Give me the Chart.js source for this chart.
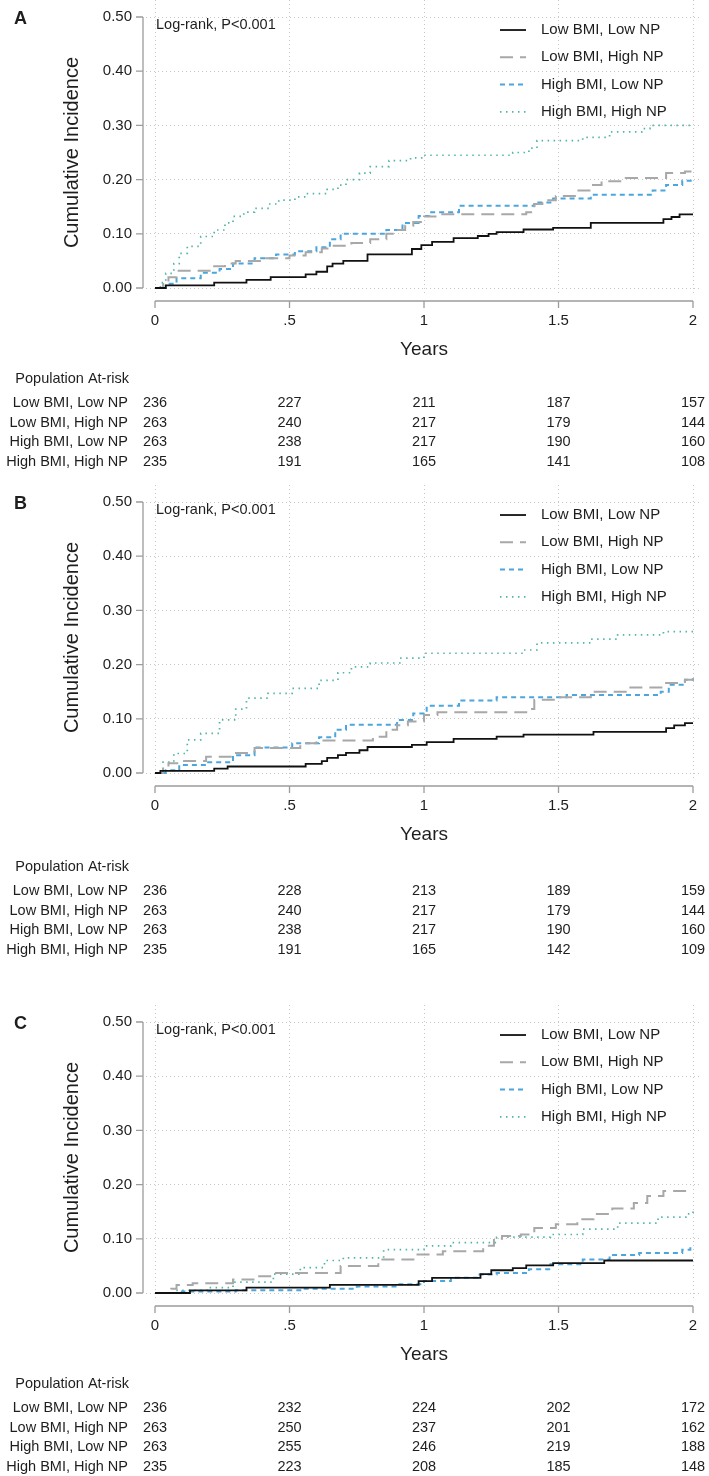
<!DOCTYPE html>
<html>
<head>
<meta charset="utf-8">
<script src="https://cdn.jsdelivr.net/npm/chart.js@4.4.1/dist/chart.umd.min.js"></script>
<style>
  body { margin: 0; background: #fff; overflow: hidden; }
  #wrap { position: relative; width: 709px; height: 1476px; overflow: hidden; }
  canvas { position: absolute; left: 0; }
</style>
</head>
<body>
<div id="wrap">
  <canvas id="panelA" width="740" height="525" style="top:-45px"></canvas>
  <canvas id="panelB" width="740" height="520" style="top:440px"></canvas>
  <canvas id="panelC" width="740" height="516" style="top:960px"></canvas>
</div>
<script>
// -------------------------
// DATA
// -------------------------
const seriesNames = ["Low BMI, Low NP", "Low BMI, High NP", "High BMI, Low NP", "High BMI, High NP"];
const xTickValues = [0, 0.5, 1, 1.5, 2];
const xTickLabels = ["0", ".5", "1", "1.5", "2"];
const yTickValues = [0, 0.1, 0.2, 0.3, 0.4, 0.5];

// panel A  [years, cumulative incidence]
const aLowLow = [[0,0],[0.04,0.005],[0.22,0.01],[0.34,0.015],[0.43,0.02],[0.56,0.025],[0.6,0.03],[0.64,0.04],[0.66,0.045],[0.7,0.05],[0.79,0.062],[0.955,0.072],[0.99,0.079],[1.03,0.085],[1.11,0.092],[1.2,0.096],[1.24,0.1],[1.27,0.103],[1.37,0.108],[1.48,0.111],[1.62,0.12],[1.89,0.127],[1.92,0.131],[1.95,0.136],[2,0.136]];
const aLowHigh = [[0,0],[0.03,0.01],[0.05,0.02],[0.08,0.032],[0.22,0.04],[0.26,0.045],[0.3,0.05],[0.4,0.055],[0.5,0.06],[0.56,0.066],[0.62,0.073],[0.66,0.078],[0.73,0.083],[0.8,0.09],[0.86,0.1],[0.89,0.107],[0.93,0.115],[0.96,0.122],[1.0,0.132],[1.05,0.136],[1.38,0.14],[1.41,0.155],[1.44,0.162],[1.49,0.17],[1.57,0.18],[1.62,0.19],[1.66,0.197],[1.75,0.203],[1.9,0.212],[1.97,0.215],[2,0.215]];
const aHighLow = [[0,0],[0.04,0.008],[0.08,0.018],[0.17,0.028],[0.24,0.035],[0.29,0.045],[0.37,0.055],[0.45,0.062],[0.52,0.068],[0.6,0.075],[0.65,0.09],[0.69,0.1],[0.86,0.107],[0.92,0.12],[0.98,0.133],[1.02,0.14],[1.13,0.152],[1.41,0.158],[1.48,0.165],[1.62,0.172],[1.85,0.18],[1.9,0.19],[1.96,0.198],[2,0.2]];
const aHighHigh = [[0,0],[0.02,0.01],[0.04,0.027],[0.07,0.045],[0.09,0.064],[0.12,0.077],[0.17,0.095],[0.22,0.107],[0.26,0.12],[0.29,0.132],[0.33,0.14],[0.37,0.147],[0.42,0.155],[0.46,0.162],[0.52,0.168],[0.56,0.174],[0.64,0.182],[0.68,0.19],[0.71,0.2],[0.76,0.212],[0.8,0.224],[0.87,0.235],[0.95,0.24],[1.0,0.245],[1.33,0.25],[1.39,0.258],[1.42,0.272],[1.59,0.278],[1.69,0.288],[1.81,0.294],[1.84,0.3],[2,0.3]];

// panel B
const bLowLow = [[0,0],[0.02,0.004],[0.22,0.008],[0.27,0.012],[0.56,0.017],[0.62,0.022],[0.64,0.028],[0.68,0.033],[0.71,0.037],[0.76,0.042],[0.79,0.048],[0.955,0.052],[1.01,0.057],[1.11,0.063],[1.27,0.067],[1.37,0.071],[1.63,0.076],[1.9,0.083],[1.93,0.088],[1.97,0.092],[2,0.092]];
const bLowHigh = [[0,0],[0.03,0.01],[0.05,0.018],[0.09,0.022],[0.19,0.03],[0.29,0.037],[0.37,0.046],[0.54,0.055],[0.6,0.06],[0.81,0.067],[0.86,0.08],[0.9,0.088],[0.94,0.095],[1.0,0.107],[1.05,0.112],[1.38,0.118],[1.41,0.135],[1.49,0.14],[1.62,0.15],[1.75,0.158],[1.9,0.166],[1.97,0.172],[2,0.174]];
const bHighLow = [[0,0],[0.04,0.005],[0.09,0.015],[0.19,0.02],[0.29,0.033],[0.37,0.047],[0.51,0.055],[0.61,0.066],[0.67,0.08],[0.71,0.089],[0.9,0.098],[0.96,0.11],[1.01,0.124],[1.13,0.134],[1.27,0.14],[1.53,0.144],[1.88,0.15],[1.91,0.163],[1.97,0.172],[2,0.175]];
const bHighHigh = [[0,0],[0.03,0.02],[0.07,0.036],[0.12,0.061],[0.17,0.073],[0.24,0.098],[0.3,0.118],[0.34,0.138],[0.42,0.147],[0.51,0.156],[0.61,0.171],[0.68,0.185],[0.73,0.196],[0.8,0.203],[0.91,0.212],[1.0,0.221],[1.37,0.227],[1.42,0.24],[1.62,0.247],[1.72,0.255],[1.89,0.261],[2,0.261]];

// panel C
const cLowLow = [[0,0],[0.13,0.005],[0.34,0.01],[0.65,0.015],[0.98,0.022],[1.03,0.028],[1.21,0.035],[1.25,0.042],[1.33,0.046],[1.38,0.051],[1.48,0.055],[1.67,0.06],[2,0.06]];
const cLowHigh = [[0,0],[0.06,0.008],[0.08,0.015],[0.14,0.018],[0.29,0.025],[0.37,0.031],[0.44,0.037],[0.69,0.05],[0.83,0.062],[0.97,0.071],[1.07,0.077],[1.22,0.087],[1.26,0.1],[1.29,0.105],[1.36,0.108],[1.41,0.12],[1.49,0.127],[1.57,0.136],[1.63,0.146],[1.7,0.156],[1.78,0.166],[1.83,0.179],[1.89,0.188],[2,0.188]];
const cHighLow = [[0,0],[0.1,0.003],[0.3,0.005],[0.55,0.008],[0.75,0.012],[0.9,0.016],[1.0,0.022],[1.1,0.028],[1.2,0.034],[1.27,0.037],[1.39,0.044],[1.47,0.053],[1.59,0.062],[1.69,0.07],[1.8,0.074],[1.96,0.08],[1.99,0.085],[2,0.085]];
const cHighHigh = [[0,0],[0.07,0.005],[0.2,0.01],[0.29,0.02],[0.44,0.035],[0.54,0.047],[0.63,0.06],[0.7,0.065],[0.85,0.08],[1.0,0.087],[1.1,0.093],[1.27,0.103],[1.47,0.108],[1.59,0.118],[1.72,0.129],[1.87,0.14],[1.98,0.146],[2,0.155]];

// population at risk (at 0, .5, 1, 1.5, 2 years)
const aAtRisk = [[236,227,211,187,157],[263,240,217,179,144],[263,238,217,190,160],[235,191,165,141,108]];
const bAtRisk = [[236,228,213,189,159],[263,240,217,179,144],[263,238,217,190,160],[235,191,165,142,109]];
const cAtRisk = [[236,232,224,202,172],[263,250,237,201,162],[263,255,246,219,188],[235,223,208,185,148]];

// -------------------------
// STYLES
// -------------------------
const seriesColors = ["#111111", "#a8a8a8", "#4aa6dd", "#4fb5a6"];
const seriesDash = [[], [13, 7], [5, 4], [1.5, 4.5]];
const seriesWidth = [1.8, 2, 2, 1.7];
const FONT = '"Liberation Sans", Arial, Helvetica, sans-serif';
const TEXT = "#1e1e1e";
const PANEL_TOP = 62;   // pixel of the 0.50 line inside every canvas

// -------------------------
// DIBUJO EXTRA (ejes, textos, leyenda, tabla)
// -------------------------
const panelDecor = {
    id: 'panelDecor',
    afterDraw(chart, args, opts) {
        const ctx = chart.ctx;
        const xs = chart.scales.x;
        const ys = chart.scales.y;
        const x0 = xs.getPixelForValue(0), x2 = xs.getPixelForValue(2);
        const y0 = ys.getPixelForValue(0), y5 = ys.getPixelForValue(0.5);

        ctx.save();
        // axis lines with outward ticks
        ctx.strokeStyle = "#9c9c9c";
        ctx.lineWidth = 1.3;
        ctx.setLineDash([]);
        const ax = chart.chartArea.left - 3;
        const ay = y0 + 13;
        ctx.beginPath();
        ctx.moveTo(ax, y5); ctx.lineTo(ax, y0);
        yTickValues.forEach(v => {
            const p = ys.getPixelForValue(v);
            ctx.moveTo(ax - 7, p); ctx.lineTo(ax, p);
        });
        ctx.moveTo(x0, ay); ctx.lineTo(x2, ay);
        xTickValues.forEach(v => {
            const p = xs.getPixelForValue(v);
            ctx.moveTo(p, ay); ctx.lineTo(p, ay + 7);
        });
        ctx.stroke();

        ctx.fillStyle = TEXT;
        ctx.textBaseline = "middle";

        // panel letter
        ctx.font = "bold 18px " + FONT;
        ctx.textAlign = "left";
        ctx.fillText(opts.letter, 14, y5 + 2);

        // log-rank
        ctx.font = "14.5px " + FONT;
        ctx.fillText("Log-rank, P<0.001", x0 + 1, y5 + 8);

        // legend
        ctx.font = "15px " + FONT;
        chart.data.datasets.forEach((ds, i) => {
            const ly = y5 + 13 + i * 27.3;
            ctx.save();
            ctx.strokeStyle = ds.borderColor;
            ctx.lineWidth = ds.borderWidth;
            ctx.setLineDash(ds.borderDash);
            ctx.beginPath();
            ctx.moveTo(500, ly); ctx.lineTo(526, ly);
            ctx.stroke();
            ctx.restore();
            ctx.fillText(ds.label, 541, ly);
        });

        // y title
        ctx.save();
        ctx.font = "20px " + FONT;
        ctx.textAlign = "center";
        ctx.translate(72, (y0 + y5) / 2);
        ctx.rotate(-Math.PI / 2);
        ctx.fillText("Cumulative Incidence", 0, 0);
        ctx.restore();

        // x title
        ctx.font = "19px " + FONT;
        ctx.textAlign = "center";
        ctx.fillText("Years", xs.getPixelForValue(1), y0 + 62);

        // at-risk table
        const t0 = y0 + 91 + opts.tableShift;
        ctx.font = "14.5px " + FONT;
        ctx.textAlign = "right";
        ctx.fillText("Population At-risk", 129, t0);
        opts.atRisk.forEach((row, i) => {
            const ry = t0 + 24 + i * 19.6;
            ctx.textAlign = "right";
            ctx.fillText(seriesNames[i], 128, ry);
            ctx.textAlign = "center";
            row.forEach((n, j) => {
                ctx.fillText(String(n), xs.getPixelForValue(xTickValues[j]), ry);
            });
        });
        ctx.restore();
    }
};

// -------------------------
// CREAR PANEL
// -------------------------
function createPanel(canvasId, letter, series, atRisk, tableShift) {
    const canvas = document.getElementById(canvasId);
    const H = canvas.height;
    const top = PANEL_TOP;

    return new Chart(canvas.getContext('2d'), {
        type: 'line',
        data: {
            datasets: series.map((pts, i) => ({
                label: seriesNames[i],
                data: pts.map(p => ({ x: p[0], y: p[1] })),
                borderColor: seriesColors[i],
                borderDash: seriesDash[i],
                borderWidth: seriesWidth[i],
                stepped: true,
                pointRadius: 0,
                fill: false
            }))
        },
        options: {
            responsive: false,
            animation: false,
            // chart area: x 146..700, y (top-17)..(top+276)
            layout: { padding: { top: top - 17, right: canvas.width - 700, left: 0, bottom: 0 } },
            plugins: {
                legend: { display: false },
                tooltip: { enabled: false },
                panelDecor: { letter: letter, atRisk: atRisk, tableShift: tableShift }
            },
            scales: {
                x: {
                    type: 'linear',
                    min: -0.0335,
                    max: 2.026,
                    afterBuildTicks: s => { s.ticks = xTickValues.map(v => ({ value: v })); },
                    afterFit: s => { s.height = H - (top + 276); },
                    ticks: {
                        callback: (v, i) => xTickLabels[i],
                        font: { family: FONT, size: 15 },
                        color: TEXT,
                        padding: 19,
                        maxRotation: 0,
                        autoSkip: false
                    },
                    grid: { color: "#c8c8c8", lineWidth: 1, drawTicks: false },
                    border: { display: false, dash: [1, 3] }
                },
                y: {
                    type: 'linear',
                    min: -0.0092,
                    max: 0.5314,
                    afterBuildTicks: s => { s.ticks = yTickValues.map(v => ({ value: v })); },
                    afterFit: s => { s.width = 146; },
                    ticks: {
                        callback: v => v.toFixed(2),
                        font: { family: FONT, size: 15 },
                        color: TEXT,
                        padding: 14,
                        autoSkip: false
                    },
                    grid: { color: "#c8c8c8", lineWidth: 1, drawTicks: false },
                    border: { display: false, dash: [1, 3] }
                }
            }
        },
        plugins: [panelDecor]
    });
}

// -------------------------
createPanel('panelA', 'A', [aLowLow, aLowHigh, aHighLow, aHighHigh], aAtRisk, 0);
createPanel('panelB', 'B', [bLowLow, bLowHigh, bHighLow, bHighHigh], bAtRisk, 3);
createPanel('panelC', 'C', [cLowLow, cLowHigh, cHighLow, cHighHigh], cAtRisk, 0);
</script>
</body>
</html>
